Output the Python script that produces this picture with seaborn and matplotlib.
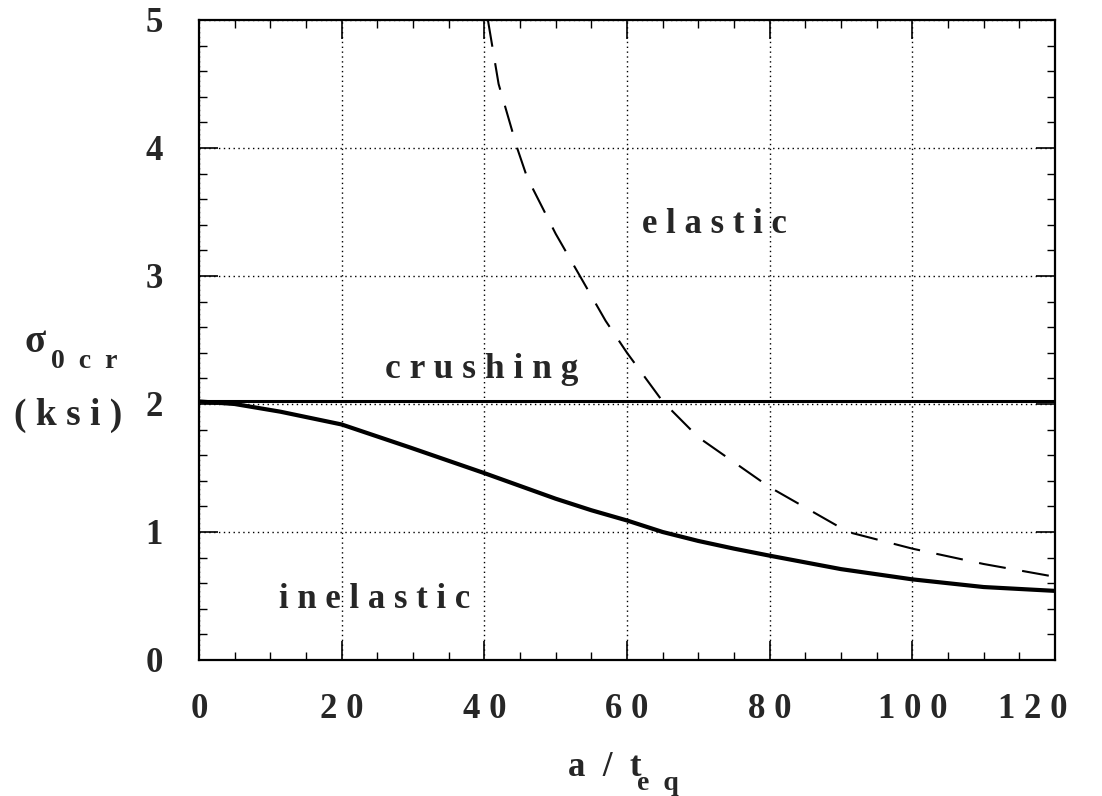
import numpy as np
import pandas as pd
import seaborn as sns
import matplotlib.pyplot as plt
import matplotlib.transforms as mtransforms
from matplotlib.ticker import MultipleLocator

# values
elastic_x = [40.5, 42, 44.6, 46, 50, 53.4, 57, 60, 65, 70, 80, 91, 100, 110, 120]
elastic_y = [5.0, 4.5, 4.0, 3.77, 3.33, 3.0, 2.65, 2.4, 2.02, 1.74, 1.35, 1.0, 0.87, 0.75, 0.65]

inelastic_x = [0, 5, 11.4, 20, 29.6, 40, 50, 55, 60, 65, 70, 75, 80, 90, 100, 110, 120]
inelastic_y = [2.02, 2.0, 1.94, 1.84, 1.66, 1.46, 1.26, 1.17, 1.09, 1.0, 0.93, 0.87, 0.815, 0.71, 0.63, 0.57, 0.54]

crushing_x = [0, 120]
crushing_y = [2.02, 2.02]

x_ticks = [0, 20, 40, 60, 80, 100, 120]
x_ticklabels = ["0", "2 0", "4 0", "6 0", "8 0", "1 0 0", "1 2 0"]
y_ticks = [0, 1, 2, 3, 4, 5]
y_ticklabels = ["0", "1", "2", "3", "4", "5"]

df_el = pd.DataFrame({"x": elastic_x, "y": elastic_y})
df_in = pd.DataFrame({"x": inelastic_x, "y": inelastic_y})
df_cr = pd.DataFrame({"x": crushing_x, "y": crushing_y})

sns.set_style("ticks")
serif = ["Liberation Serif", "DejaVu Serif"]
plt.rcParams["font.family"] = serif
plt.rcParams["font.weight"] = "bold"

W, H = 1102, 796
fig = plt.figure(figsize=(W / 100, H / 100), dpi=100)
ax = fig.add_axes([199 / W, 1 - 660 / H, (1055 - 199) / W, (660 - 20) / H])

sns.lineplot(data=df_cr, x="x", y="y", ax=ax, color="black", lw=2.2, sort=False)
sns.lineplot(data=df_in, x="x", y="y", ax=ax, color="black", lw=3.0, sort=False)
sns.lineplot(data=df_el, x="x", y="y", ax=ax, color="black", lw=1.5, sort=False,
             dashes=False, linestyle=(0, (13, 8)))

ax.set_xlim(0, 120)
ax.set_ylim(0, 5)
ax.set_xticks(x_ticks)
ax.set_xticklabels(x_ticklabels)
ax.set_yticks(y_ticks)
ax.set_yticklabels(y_ticklabels)
ax.xaxis.set_minor_locator(MultipleLocator(5))
ax.yaxis.set_minor_locator(MultipleLocator(0.2))
ax.tick_params(which="both", direction="in", top=True, right=True, color="black")
ax.tick_params(which="major", length=14, width=1.2)
ax.tick_params(which="minor", length=6, width=1.0)
ax.tick_params(axis="x", which="major", pad=24, labelsize=25)
ax.tick_params(axis="y", which="major", pad=26, labelsize=25)
for lab in ax.get_xticklabels() + ax.get_yticklabels():
    lab.set_fontweight("bold")
# the last x label sits a bit to the left in the original
last = ax.get_xticklabels()[-1]
last.set_transform(last.get_transform() + mtransforms.ScaledTranslation(-22 / 100, 0, fig.dpi_scale_trans))
ax.grid(True, which="major", linestyle=(0, (1, 2.5)), color="black", lw=1.0)
for s in ax.spines.values():
    s.set_linewidth(1.6)
    s.set_color("black")
ax.set_xlabel("")
ax.set_ylabel("")

# region labels
ax.text(72.3, 3.4, "e l a s t i c", fontsize=25, fontweight="bold", ha="center", va="center")
ax.text(39.6, 2.27, "c r u s h i n g", fontsize=25.5, fontweight="bold", ha="center", va="center")
ax.text(24.6, 0.47, "i n e l a s t i c", fontsize=25, fontweight="bold", ha="center", va="center")

# axis labels
def px(x, y):
    return x / W, 1 - y / H

fig.text(*px(35, 343), "σ", fontsize=28, ha="center", va="center")
fig.text(*px(84, 362), "0  c  r", fontsize=20, fontweight="bold", ha="center", va="center")
fig.text(*px(68, 415), "( k s i )", fontsize=27, fontweight="bold", ha="center", va="center")
fig.text(*px(605, 767), "a  /  t", fontsize=25, fontweight="bold", ha="center", va="center")
fig.text(*px(658, 784), "e  q", fontsize=20, fontweight="bold", ha="center", va="center")

fig.savefig("out.png", dpi=100)
